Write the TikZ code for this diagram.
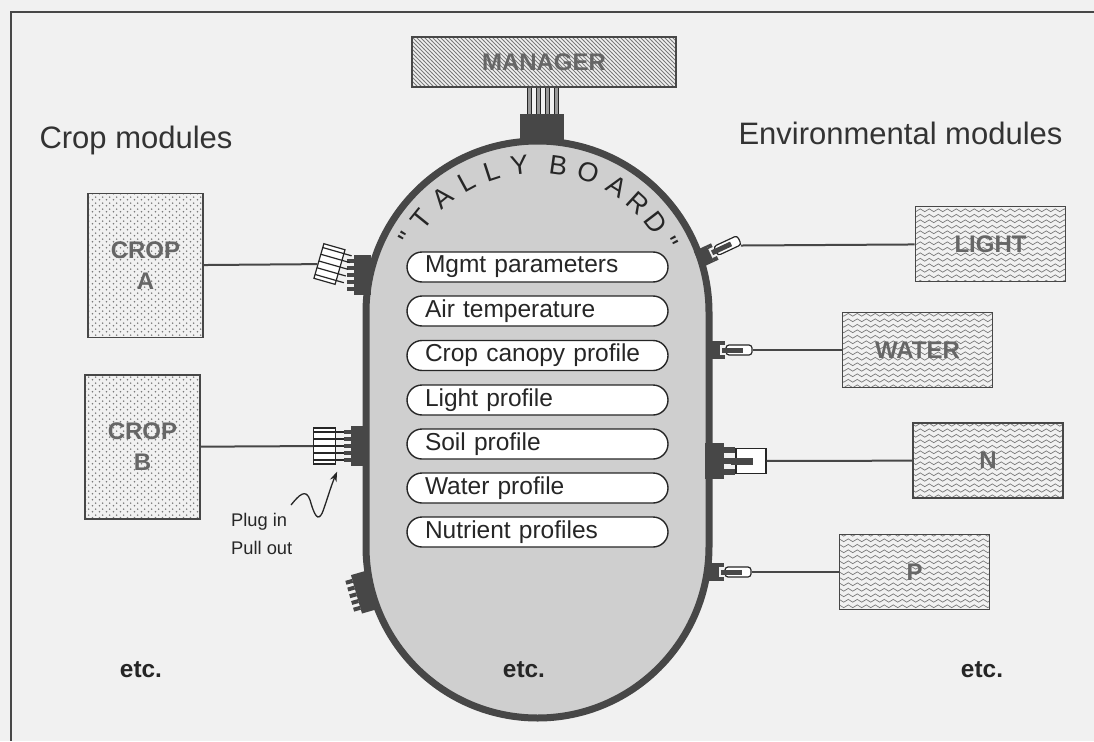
\documentclass[tikz,border=0pt]{standalone}
\usepackage{fontspec}
\setmainfont{Liberation Sans}
\newfontfamily\arcfont{Liberation Sans}[Ligatures=TeXOff]
\usetikzlibrary{positioning, arrows.meta, calc, patterns}

\definecolor{PaperGray}{HTML}{F1F1F1}
\definecolor{InkGray}{HTML}{474747}
\definecolor{BoardGray}{HTML}{CFCFCF}
\definecolor{FillGray}{HTML}{7A7A7A}

% fill patterns of the module boxes
\pgfdeclarepatternformonly{hatch}{\pgfpoint{-1pt}{-1pt}}{\pgfpoint{5pt}{5pt}}{\pgfpoint{4pt}{4pt}}{%
  \pgfsetlinewidth{0.8pt}%
  \pgfpathmoveto{\pgfpoint{0pt}{4pt}}%
  \pgfpathlineto{\pgfpoint{4.1pt}{-0.1pt}}%
  \pgfusepath{stroke}}
\pgfdeclarepatternformonly{stipple}{\pgfpointorigin}{\pgfpoint{7pt}{6pt}}{\pgfpoint{7pt}{6pt}}{%
  \pgfpathcircle{\pgfpoint{1.75pt}{1.5pt}}{1pt}%
  \pgfpathcircle{\pgfpoint{5.25pt}{4.5pt}}{1pt}%
  \pgfusepath{fill}}
\pgfdeclarepatternformonly{waves}{\pgfpoint{-0.5pt}{-0.5pt}}{\pgfpoint{9.5pt}{6pt}}{\pgfpoint{9pt}{5.5pt}}{%
  \pgfsetlinewidth{0.7pt}%
  \pgfpathmoveto{\pgfpoint{0pt}{2.7pt}}%
  \pgfpathsine{\pgfpoint{2.25pt}{1.4pt}}%
  \pgfpathcosine{\pgfpoint{2.25pt}{-1.4pt}}%
  \pgfpathsine{\pgfpoint{2.25pt}{-1.4pt}}%
  \pgfpathcosine{\pgfpoint{2.25pt}{1.4pt}}%
  \pgfusepath{stroke}}

\begin{document}
\begin{tikzpicture}[x=1pt, y=-1pt,
  frameline/.style={draw=InkGray, line width=1.5pt},
  heading/.style={font=\fontsize{31}{36}\selectfont, text=black!80},
  module/.style={draw=InkGray, line width=1.8pt, inner sep=0pt, align=center,
    font=\fontsize{24}{31}\selectfont\bfseries, text=black!60, pattern color=FillGray},
  mgrbox/.style={module, pattern=hatch, minimum width=264pt, minimum height=50pt},
  cropbox/.style={module, pattern=stipple, minimum width=115pt, minimum height=144pt},
  envbox/.style={module, pattern=waves, minimum width=150pt, minimum height=75pt},
  board/.style={draw=InkGray, fill=BoardGray, line width=7pt, inner sep=0pt,
    minimum width=343pt, minimum height=577pt, rounded corners=171.5pt},
  item/.style={draw=black!85, fill=white, line width=1.4pt, rounded corners=15pt,
    minimum height=30pt, text width=225pt, inner xsep=18pt, inner ysep=0pt, align=left,
    font=\fontsize{24.5}{28}\selectfont, text=black!85},
  arcltr/.style={font=\arcfont\fontsize{27}{30}\selectfont, text=black!85, anchor=base, inner sep=0pt},
  etc/.style={font=\fontsize{24.4}{28}\selectfont\bfseries, text=black!85},
  plugnote/.style={font=\fontsize{18.3}{22}\selectfont, text=black!85, anchor=base west, inner sep=0pt},
  sock/.style={fill=InkGray},
  plugbody/.style={draw=black!85, fill=white, line width=1.2pt, inner sep=0pt, transform shape},
  prong/.style={draw=black!85, line width=1.2pt},
  pinbar/.style={draw=black!85, line width=1pt, double=black!40, double distance=3pt},
  wire/.style={draw=InkGray, line width=2pt},
  squig/.style={draw=black!85, line width=1.3pt, -{Stealth[length=10pt, width=7pt]}},
  combsocket/.pic={
    \fill[sock] (-12,-20) rectangle (5,20);
    \foreach \t in {-14,-7,0,7,14} \fill[sock] (-19,\t-2) rectangle (-12,\t+2);
  },
  combplug/.pic={
    \pic {combsocket};
    \node[plugbody, minimum width=22pt, minimum height=36pt] (-body) at (-38,0) {};
    \foreach \t in {-14,-7,0,7,14} \draw[prong] (-49,\t) -- (-19,\t);
  },
  pinplug/.pic={
    \fill[sock] (-6,-9) rectangle (8,9);
    \fill[sock] (8,-9) rectangle (13,-5);
    \fill[sock] (8,5) rectangle (13,9);
    \node[plugbody, minimum width=26pt, minimum height=10pt, rounded corners=3pt] (-body) at (27,0) {};
    \fill[sock] (10,-2.5) rectangle (31,2.5);
  },
  bigplug/.pic={
    \fill[sock] (-6,-18) rectangle (13,18);
    \foreach \t in {-11,0,11} \fill[sock] (13,\t-3) rectangle (24,\t+3);
    \node[plugbody, minimum width=30pt, minimum height=25pt] (-body) at (40,0) {};
    \fill[sock] (20,-3.5) rectangle (42,3.5);
  },
]
  \path[use as bounding box, fill=PaperGray] (0,0) rectangle (1094,741);
  \draw[frameline] (1094,12) -- (11,12) -- (11,741);

  % headings
  \node[heading, anchor=base west] (cropttl) at (36,148) {Crop modules};
  \node[heading, anchor=base east] (envttl) at (1066,144) {Environmental modules};

  % tally board with its slots
  \node[board] (board) at (537.5,429.5) {};
  \foreach \ch/\ang [count=\k] in {"/150,T/141,A/129.5,L/118.5,L/108,Y/97,B/82,O/70,A/58,R/47.5,D/37.5,"/28}
    \node[arcltr, rotate=\ang-90] (ltr\k) at ({537.5+140*cos(\ang)},{313-140*sin(\ang)}) {\ch};
  \node[item] (slot1) at (537.5,267) {Mgmt parameters};
  \node[item] (slot2) at (537.5,311) {Air temperature};
  \node[item] (slot3) at (537.5,355.5) {Crop canopy profile};
  \node[item] (slot4) at (537.5,400) {Light profile};
  \node[item] (slot5) at (537.5,444) {Soil profile};
  \node[item] (slot6) at (537.5,488) {Water profile};
  \node[item] (slot7) at (537.5,532) {Nutrient profiles};
  \node[etc] (etcM) at (524,670) {etc.};

  % manager plugged in on top
  \node[mgrbox] (manager) at (544,62) {MANAGER};
  \foreach \dx in {-15,-6,3,12}
    \draw[pinbar] ($(manager.south)+(\dx,0)$) -- ++(0,28);
  \fill[sock] ($(manager.south)+(-24,26)$) rectangle ($(manager.south)+(20,52)$);

  % crop modules
  \node[cropbox] (cropA) at (145.5,265.5) {CROP\\A};
  \node[cropbox] (cropB) at (142.5,447) {CROP\\B};
  \pic[rotate=-16] (plugA) at (366,274.5) {combplug};
  \pic (plugB) at (362.5,446) {combplug};
  \pic[rotate=16] at (368,591) {combsocket};
  \draw[wire] (cropA) -- (plugA-body);
  \draw[wire] (cropB) -- (plugB-body);
  \node[plugnote] (plugin) at (231,526) {Plug in};
  \node[plugnote] (pullout) at (231,554) {Pull out};
  \coordinate (squigstart) at (291,505);
  \draw[squig] (squigstart) .. controls (299,495) and (306,488) .. (310,500)
    .. controls (314,514) and (318,524) .. (323,511)
    .. controls (327,500) and (331,486) .. ($(plugB-body.south east)+(1,7)$);
  \node[etc] (etcL) at (141,670) {etc.};

  % environmental modules
  \node[envbox] (light) at (990.5,244) {LIGHT};
  \node[envbox] (water) at (917.5,350) {WATER};
  \node[envbox] (nbox) at (988,460.5) {N};
  \node[envbox] (pbox) at (914.5,572) {P};
  \pic[rotate=25] (plugL) at (703,257) {pinplug};
  \pic (plugW) at (712,350) {pinplug};
  \pic (plugN) at (711,461) {bigplug};
  \pic (plugP) at (711,572) {pinplug};
  \draw[wire] (plugL-body) -- (light);
  \draw[wire] (plugW-body) -- (water);
  \draw[wire] (plugN-body) -- (nbox);
  \draw[wire] (plugP-body) -- (pbox);
  \node[etc] (etcR) at (982,670) {etc.};
\end{tikzpicture}
\end{document}
